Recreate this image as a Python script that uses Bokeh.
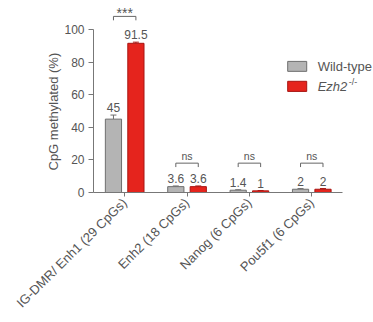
import math
import pandas as pd
from bokeh.plotting import figure
from bokeh.models import ColumnDataSource, Range1d, FixedTicker, Whisker, Title
from bokeh.transform import dodge
from bokeh.core.properties import value
from bokeh.embed import file_html
from bokeh.resources import INLINE

# --- data -------------------------------------------------------------
regions = ["IG-DMR/ Enh1 (29 CpGs)", "Enh2 (18 CpGs)", "Nanog (6 CpGs)", "Pou5f1 (6 CpGs)"]
wild_type = [45, 3.6, 1.4, 2]
ezh2_ko = [91.5, 3.6, 1, 2]
wild_type_err = [2.5, 0.4, 0.3, 0.4]
ezh2_ko_err = [0.7, 0.4, 0.2, 0.4]
wild_type_labels = ["45", "3.6", "1.4", "2"]
ezh2_ko_labels = ["91.5", "3.6", "1", "2"]
sig_labels = ["***", "ns", "ns", "ns"]
sig_heights = [108, 18, 18, 18]
y_ticks = [0, 20, 40, 60, 80, 100]

FONT = value("Liberation Sans")
TEXT_COLOR = "#555555"
GRAY_FILL, GRAY_LINE = "#b4b4b4", "#6e6e6e"
RED_FILL, RED_LINE = "#e5241d", "#a81512"
OFFSET, BAR_W = 0.18, 0.26

pos = list(range(len(regions)))
df = pd.DataFrame(dict(pos=pos, wt=wild_type, ko=ezh2_ko,
                       wt_err=wild_type_err, ko_err=ezh2_ko_err,
                       wt_lbl=wild_type_labels, ko_lbl=ezh2_ko_labels))
df["wt_hi"] = df.wt + df.wt_err
df["ko_hi"] = df.ko + df.ko_err
src = ColumnDataSource(df)

p = figure(width=373, height=322, output_backend="svg", toolbar_location=None,
           x_range=Range1d(-0.5, 3.99), y_range=Range1d(0, 115.3),
           min_border_left=93, min_border_right=0, min_border_top=4,
           min_border_bottom=130)
p.grid.visible = False
p.outline_line_color = None
p.background_fill_color = "white"

# bars
p.vbar(x=dodge("pos", -OFFSET), top="wt", width=BAR_W, source=src,
       fill_color=GRAY_FILL, line_color=GRAY_LINE, line_width=1)
p.vbar(x=dodge("pos", OFFSET), top="ko", width=BAR_W, source=src,
       fill_color=RED_FILL, line_color=RED_LINE, line_width=1)

# error bars
for col, off, colr in (("wt", -OFFSET, GRAY_LINE), ("ko", OFFSET, RED_LINE)):
    w = Whisker(base=dodge("pos", off), upper=col + "_hi", lower=col, source=src,
                line_color=colr, line_width=1)
    w.upper_head.size = 6
    w.upper_head.line_color = colr
    w.lower_head = None
    p.add_layout(w)

# value labels
for col, off in (("wt", -OFFSET), ("ko", OFFSET)):
    p.text(x=dodge("pos", off), y=col + "_hi", text=col + "_lbl", source=src,
           y_offset=-3, text_align="center", text_baseline="bottom",
           text_font=FONT, text_font_size="12px", text_color=TEXT_COLOR)

# significance brackets
arm = 2.4
xs, ys = [], []
for x0, h in zip(pos, sig_heights):
    xs.append([x0 - OFFSET, x0 - OFFSET, x0 + OFFSET, x0 + OFFSET])
    ys.append([h - arm, h, h, h - arm])
p.multi_line(xs=xs, ys=ys, line_color="#666666", line_width=1)
is_star = [s.startswith("*") for s in sig_labels]
p.text(x=pos, y=sig_heights, text=sig_labels,
       text_font_size=["14px" if s else "10.5px" for s in is_star],
       y_offset=[5 if s else -1 for s in is_star],
       text_align="center", text_baseline="bottom",
       text_font=FONT, text_color=TEXT_COLOR)

# legend
lx0, lx1, tx = 2.614, 2.919, 3.095
p.quad(left=[lx0], right=[lx1], bottom=[74.3], top=[80.4],
       fill_color=GRAY_FILL, line_color=GRAY_LINE)
p.quad(left=[lx0], right=[lx1], bottom=[62.0], top=[68.2],
       fill_color=RED_FILL, line_color=RED_LINE)
p.text(x=[tx], y=[77.3], text=["Wild-type"], text_baseline="middle",
       text_font=FONT, text_font_size="13px", text_color=TEXT_COLOR)
p.text(x=[tx], y=[65.1], text=["Ezh2"], text_baseline="middle",
       text_font=FONT, text_font_size="13px", text_font_style="italic",
       text_color=TEXT_COLOR)
p.text(x=[tx + 0.5], y=[67.5], text=["-/-"], text_baseline="middle",
       text_font=FONT, text_font_size="9px", text_color=TEXT_COLOR)

# y axis; its title sits beside the 0-100 span
ya = p.yaxis[0]
ya.ticker = FixedTicker(ticks=y_ticks)
ya.bounds = (0, 100)
ya.major_label_text_font = "Liberation Sans"
ya.major_label_text_font_size = "12px"
ya.major_label_text_color = TEXT_COLOR
ya.major_label_standoff = 4
ya.minor_tick_line_color = None
ya.major_tick_out = 5
ya.major_tick_in = 0
ya.axis_line_color = "#777777"
ya.major_tick_line_color = "#777777"
p.add_layout(Title(text="CpG methylated (%)", align="left", offset=22,
                   text_font="Liberation Sans", text_font_size="13px",
                   text_font_style="normal", text_color=TEXT_COLOR,
                   standoff=2), "left")

# x axis
xa = p.xaxis[0]
xa.ticker = FixedTicker(ticks=pos)
xa.bounds = (-0.5, 3.5)
xa.major_label_overrides = {i: r for i, r in zip(pos, regions)}
xa.major_label_orientation = 0.78
xa.major_label_text_font = "Liberation Sans"
xa.major_label_text_font_size = "13px"
xa.major_label_text_color = TEXT_COLOR
xa.major_label_standoff = 4
xa.minor_tick_line_color = None
xa.major_tick_out = 4
xa.major_tick_in = 0
xa.axis_line_color = "#777777"
xa.major_tick_line_color = "#777777"

open("out.html", "w").write(file_html(p, INLINE))
